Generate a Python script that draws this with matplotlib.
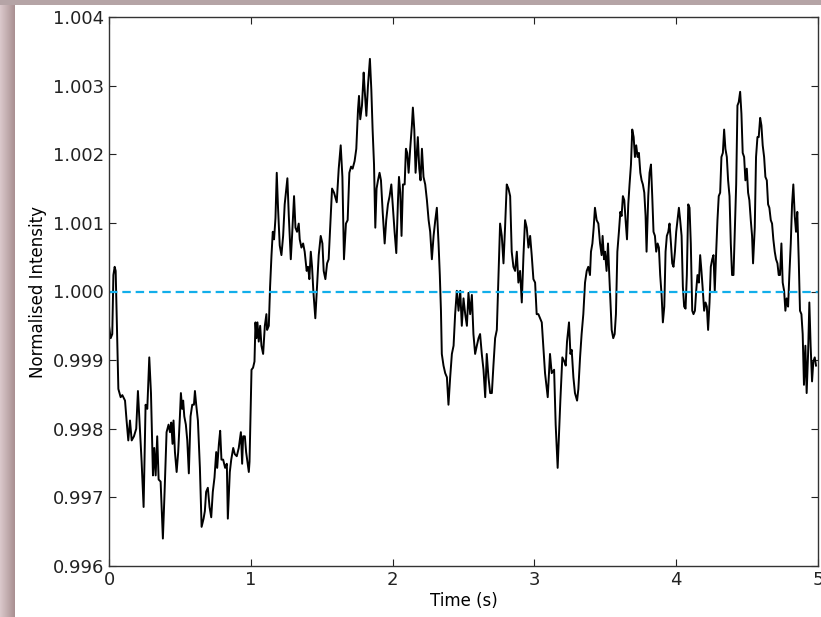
import numpy as np
import matplotlib
matplotlib.use("Agg")
import matplotlib.pyplot as plt
from matplotlib.ticker import FormatStrFormatter, MultipleLocator

# trace: time (s) and normalised intensity
time_s = [
    0.000, 0.012, 0.023, 0.031, 0.040, 0.047, 0.054, 0.066, 0.082, 0.094,
    0.113, 0.124, 0.136, 0.148, 0.160, 0.176, 0.192, 0.204, 0.216, 0.230,
    0.244, 0.258, 0.270, 0.284, 0.296, 0.310, 0.319, 0.329, 0.340, 0.350,
    0.364, 0.380, 0.392, 0.406, 0.420, 0.430, 0.439, 0.448, 0.455, 0.465,
    0.477, 0.488, 0.500, 0.507, 0.516, 0.523, 0.531, 0.542, 0.552, 0.563,
    0.575, 0.587, 0.599, 0.606, 0.615, 0.627, 0.641, 0.653, 0.667, 0.676,
    0.685, 0.697, 0.709, 0.721, 0.732, 0.744, 0.756, 0.763, 0.775, 0.784,
    0.793, 0.805, 0.819, 0.831, 0.838, 0.852, 0.862, 0.876, 0.887, 0.901,
    0.915, 0.930, 0.939, 0.946, 0.958, 0.967, 0.974, 0.986, 0.991, 1.005,
    1.016, 1.026, 1.033, 1.040, 1.047, 1.056, 1.066, 1.075, 1.087, 1.099,
    1.110, 1.115, 1.127, 1.136, 1.146, 1.155, 1.164, 1.174, 1.183, 1.192,
    1.204, 1.216, 1.228, 1.239, 1.258, 1.268, 1.282, 1.291, 1.305, 1.315,
    1.326, 1.338,
    1.345, 1.357, 1.369, 1.380, 1.394, 1.404, 1.413, 1.423, 1.432, 1.441,
    1.455, 1.467, 1.479, 1.493, 1.505, 1.514, 1.526, 1.538, 1.549, 1.561,
    1.573, 1.587, 1.606, 1.620, 1.634, 1.646, 1.657, 1.671, 1.683, 1.695,
    1.707, 1.718, 1.732, 1.744, 1.756, 1.763, 1.772, 1.784, 1.796, 1.803,
    1.815, 1.826, 1.840, 1.850, 1.859, 1.869, 1.878, 1.887, 1.897, 1.908,
    1.918, 1.930, 1.944, 1.955, 1.967, 1.979, 1.991, 2.002, 2.014, 2.026,
    2.038, 2.045, 2.054, 2.063, 2.073, 2.085, 2.094, 2.103, 2.113, 2.124,
    2.136, 2.143, 2.153, 2.162, 2.169, 2.178, 2.188, 2.197, 2.207, 2.218,
    2.230, 2.242, 2.254, 2.265, 2.277, 2.289, 2.301, 2.312, 2.324, 2.333,
    2.341, 2.347, 2.359, 2.371, 2.383, 2.394, 2.406, 2.418, 2.430, 2.441,
    2.453, 2.465, 2.477, 2.488, 2.500, 2.512, 2.524, 2.535, 2.547, 2.559,
    2.570, 2.582, 2.594, 2.606, 2.617, 2.629, 2.641, 2.653, 2.664, 2.676,
    2.688, 2.700, 2.711, 2.723, 2.735, 2.747, 2.758, 2.770, 2.782, 2.793,
    2.805, 2.817, 2.829, 2.840, 2.852, 2.864, 2.876, 2.887, 2.899, 2.911,
    2.923, 2.934, 2.946, 2.958, 2.970, 2.981, 2.993, 3.005, 3.016,
    3.028, 3.052, 3.075, 3.094, 3.110, 3.122, 3.139, 3.150, 3.164, 3.174,
    3.183, 3.197, 3.211, 3.221, 3.230, 3.244, 3.254, 3.263, 3.275, 3.286,
    3.301, 3.310, 3.322, 3.333, 3.345, 3.357, 3.369, 3.380, 3.392, 3.399,
    3.409, 3.418, 3.427, 3.439, 3.451, 3.463, 3.474, 3.481, 3.491, 3.498,
    3.509, 3.519, 3.528, 3.538, 3.545, 3.556, 3.566, 3.575, 3.585, 3.596,
    3.606, 3.615, 3.624, 3.634, 3.643, 3.653, 3.662, 3.671, 3.681, 3.690,
    3.700, 3.709, 3.718, 3.728, 3.737, 3.747, 3.756, 3.765, 3.775, 3.784,
    3.791, 3.803, 3.812, 3.822, 3.831, 3.840, 3.850, 3.859, 3.869, 3.878,
    3.887, 3.897, 3.906, 3.916, 3.925, 3.934, 3.944, 3.953, 3.963, 3.972,
    3.981, 3.991, 4.000, 4.009, 4.019, 4.028, 4.038, 4.047, 4.056, 4.066,
    4.075, 4.085, 4.094, 4.103, 4.113, 4.122, 4.132, 4.141, 4.150, 4.160,
    4.169, 4.178, 4.188, 4.197, 4.207, 4.216, 4.225, 4.235, 4.244, 4.254,
    4.263, 4.272, 4.282, 4.291, 4.300, 4.310, 4.319, 4.329, 4.338, 4.347,
    4.357, 4.366, 4.376, 4.385, 4.394, 4.404, 4.413, 4.423, 4.432, 4.441,
    4.451, 4.460, 4.469, 4.479, 4.488, 4.498, 4.507, 4.516, 4.526, 4.535,
    4.542, 4.554, 4.563, 4.573, 4.582, 4.592, 4.601, 4.610, 4.620, 4.629,
    4.639, 4.648, 4.657, 4.667, 4.676, 4.685, 4.695, 4.704, 4.714, 4.723,
    4.732, 4.742, 4.751, 4.761, 4.770, 4.779, 4.789, 4.798, 4.808, 4.817,
    4.826, 4.836, 4.845, 4.854, 4.864, 4.873, 4.883, 4.892, 4.901, 4.911,
    4.920, 4.930, 4.939, 4.948, 4.958, 4.967, 4.977, 4.986,
]

intensity = [
    0.99950, 0.99932, 0.99938, 1.00024, 1.00036, 1.00030, 0.99967, 0.99858, 0.99846, 0.99849,
    0.99841, 0.99812, 0.99783, 0.99812, 0.99783, 0.99789, 0.99800, 0.99855, 0.99806, 0.99752,
    0.99686, 0.99835, 0.99829, 0.99904, 0.99852, 0.99732, 0.99772, 0.99732, 0.99789, 0.99726,
    0.99723, 0.99640, 0.99708, 0.99795, 0.99806, 0.99795, 0.99809, 0.99778, 0.99812, 0.99766,
    0.99737, 0.99766, 0.99818, 0.99852, 0.99829, 0.99841, 0.99818, 0.99806, 0.99783, 0.99735,
    0.99818, 0.99835, 0.99835, 0.99855, 0.99835, 0.99812, 0.99743, 0.99657, 0.99669, 0.99680,
    0.99708, 0.99714, 0.99686, 0.99671, 0.99708, 0.99729, 0.99766, 0.99743, 0.99778, 0.99797,
    0.99755, 0.99755, 0.99743, 0.99749, 0.99669, 0.99737, 0.99755, 0.99772, 0.99763, 0.99760,
    0.99772, 0.99795, 0.99749, 0.99789, 0.99789, 0.99766, 0.99755, 0.99737, 0.99752, 0.99886,
    0.99889, 0.99898, 0.99955, 0.99932, 0.99955, 0.99927, 0.99950, 0.99921, 0.99909, 0.99950,
    0.99967, 0.99944, 0.99950, 1.00007, 1.00053, 1.00087, 1.00076, 1.00107, 1.00173, 1.00122,
    1.00067, 1.00053, 1.00081, 1.00127, 1.00165, 1.00110, 1.00047, 1.00081, 1.00139, 1.00093,
    1.00087, 1.00099,
    1.00076, 1.00064, 1.00070, 1.00058, 1.00030, 1.00036, 1.00018, 1.00058, 1.00036, 1.00001,
    0.99961, 1.00007, 1.00053, 1.00081, 1.00070, 1.00030, 1.00018, 1.00041, 1.00047, 1.00099,
    1.00150, 1.00144, 1.00130, 1.00179, 1.00213, 1.00167, 1.00047, 1.00099, 1.00104, 1.00173,
    1.00182, 1.00179, 1.00190, 1.00208, 1.00265, 1.00285, 1.00251, 1.00271, 1.00319, 1.00294,
    1.00256, 1.00299, 1.00339, 1.00294, 1.00236, 1.00185, 1.00093, 1.00150, 1.00162, 1.00173,
    1.00162, 1.00116, 1.00070, 1.00104, 1.00127, 1.00139, 1.00156, 1.00122, 1.00087, 1.00056,
    1.00133, 1.00167, 1.00144, 1.00081, 1.00156, 1.00156, 1.00208, 1.00202, 1.00173, 1.00208,
    1.00242, 1.00268, 1.00236, 1.00173, 1.00196, 1.00225, 1.00179, 1.00162, 1.00208, 1.00167,
    1.00156, 1.00133, 1.00104, 1.00087, 1.00047, 1.00081, 1.00104, 1.00122, 1.00070, 1.00024,
    0.99972, 0.99909, 0.99892, 0.99881, 0.99875, 0.99835, 0.99875, 0.99909, 0.99921, 0.99967,
    1.00001, 0.99972, 1.00001, 0.99950, 0.99990, 0.99967, 0.99950, 0.99998, 0.99967, 0.99995,
    0.99938, 0.99909, 0.99921, 0.99932, 0.99938, 0.99909, 0.99886, 0.99846, 0.99909, 0.99875,
    0.99852, 0.99852, 0.99892, 0.99932, 0.99944, 1.00024, 1.00099, 1.00081, 1.00041, 1.00093,
    1.00156, 1.00150, 1.00139, 1.00058, 1.00036, 1.00030, 1.00058, 1.00013, 1.00030, 0.99984,
    1.00053, 1.00104, 1.00093, 1.00064, 1.00081, 1.00053, 1.00018, 1.00013, 0.99967,
    0.99967, 0.99955, 0.99881, 0.99846, 0.99909, 0.99881, 0.99886, 0.99806, 0.99743, 0.99795,
    0.99841, 0.99904, 0.99898, 0.99892, 0.99927, 0.99955, 0.99909, 0.99915, 0.99875, 0.99852,
    0.99841, 0.99858, 0.99904, 0.99938, 0.99967, 1.00013, 1.00030, 1.00036, 1.00024, 1.00058,
    1.00070, 1.00093, 1.00122, 1.00104, 1.00099, 1.00070, 1.00053, 1.00081, 1.00047, 1.00058,
    1.00030, 1.00070, 1.00024, 0.99978, 0.99944, 0.99932, 0.99938, 0.99967, 1.00058, 1.00087,
    1.00116, 1.00110, 1.00139, 1.00133, 1.00104, 1.00076, 1.00127, 1.00156, 1.00185, 1.00236,
    1.00225, 1.00196, 1.00213, 1.00196, 1.00202, 1.00173, 1.00162, 1.00156, 1.00144, 1.00110,
    1.00058, 1.00139, 1.00173, 1.00185, 1.00139, 1.00087, 1.00081, 1.00058, 1.00070, 1.00064,
    1.00024, 0.99995, 0.99955, 0.99978, 1.00058, 1.00081, 1.00087, 1.00099, 1.00070, 1.00041,
    1.00036, 1.00058, 1.00087, 1.00104, 1.00122, 1.00104, 1.00081, 1.00007, 0.99978, 0.99975,
    1.00024, 1.00127, 1.00122, 1.00070, 0.99972, 0.99967, 0.99972, 1.00001, 1.00024, 1.00013,
    1.00053, 1.00030, 1.00001, 0.99972, 0.99984, 0.99978, 0.99944, 0.99984, 1.00036, 1.00047,
    1.00053, 1.00001, 1.00058, 1.00104, 1.00139, 1.00144, 1.00196, 1.00202, 1.00236, 1.00208,
    1.00196, 1.00162, 1.00139, 1.00070, 1.00024, 1.00024, 1.00087, 1.00156, 1.00271, 1.00276,
    1.00291, 1.00259, 1.00202, 1.00196, 1.00162, 1.00179, 1.00144, 1.00133, 1.00104, 1.00081,
    1.00041, 1.00093, 1.00196, 1.00225, 1.00225, 1.00253, 1.00242, 1.00213, 1.00196, 1.00167,
    1.00162, 1.00127, 1.00122, 1.00104, 1.00099, 1.00076, 1.00058, 1.00047, 1.00041, 1.00024,
    1.00024, 1.00070, 1.00013, 1.00001, 0.99972, 0.99990, 0.99978, 1.00024, 1.00070, 1.00127,
    1.00156, 1.00110, 1.00087, 1.00116, 1.00047, 0.99972, 0.99967, 0.99938, 0.99864, 0.99921,
    0.99852, 0.99909, 0.99984, 0.99921, 0.99869, 0.99898, 0.99904, 0.99892,
]

fig = plt.figure(figsize=(8.21, 6.17), dpi=100)
fig.patch.set_facecolor("white")

# slide-like border behind the plot (left shadow strip + top band)
bg = fig.add_axes([0, 0, 1, 1], zorder=-10)
bg.set_xlim(0, 821)
bg.set_ylim(617, 0)
bg.axis("off")
grad = np.linspace(0, 1, 64)
c0 = np.array([0.86, 0.79, 0.80])
c1 = np.array([0.66, 0.56, 0.57])
strip = (c0[None, :] * (1 - grad[:, None]) + c1[None, :] * grad[:, None])[None, :, :]
bg.imshow(strip, extent=(0, 15, 617, 0), aspect="auto")
bg.add_patch(plt.Rectangle((0, 0), 821, 5, color="#b5a4a6", lw=0))

ax = fig.add_axes([109 / 821, 1 - 566 / 617, 709 / 821, 549 / 617])
ax.plot(time_s, intensity, color="black", lw=1.4)
ax.axhline(1.0, color="#12aeea", lw=1.6, ls=(0, (3.8, 2.2)))

ax.set_xlim(0, 5)
ax.set_ylim(0.996, 1.004)
ax.xaxis.set_major_locator(MultipleLocator(1))
ax.yaxis.set_major_locator(MultipleLocator(0.001))
ax.yaxis.set_major_formatter(FormatStrFormatter("%.3f"))
ax.tick_params(direction="in", top=True, right=True, length=5, width=0.8,
               labelsize=13, colors="#222222")
for sp in ax.spines.values():
    sp.set_linewidth(1.0)
    sp.set_color("#333333")

ax.set_xlabel("Time (s)", fontsize=12, labelpad=2)
ax.set_ylabel("Normalised Intensity", fontsize=12)

fig.savefig("out.png", dpi=100)
